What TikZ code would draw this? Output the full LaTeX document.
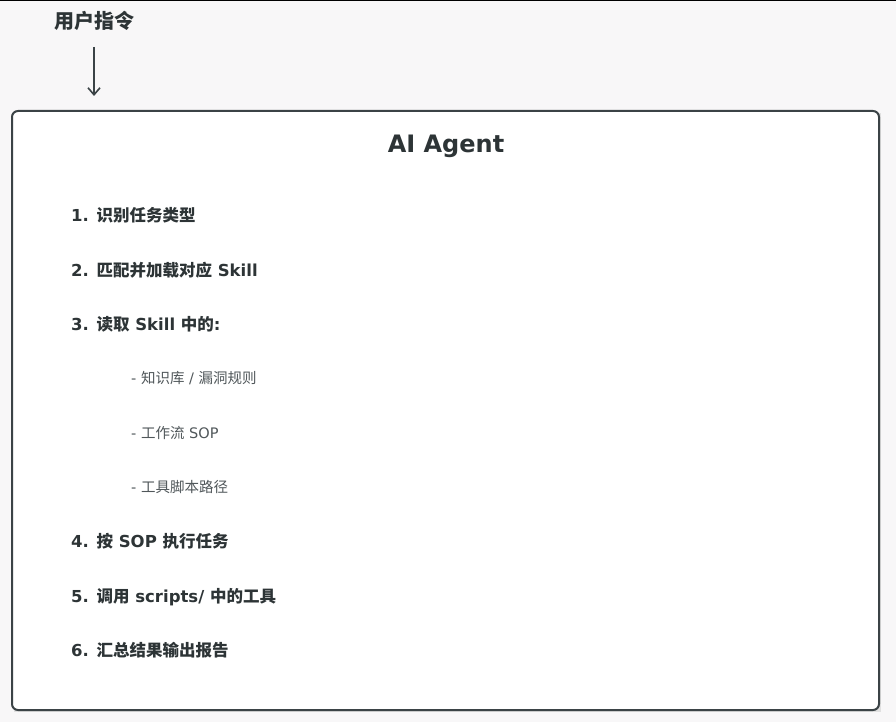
\documentclass[tikz,border=0pt]{standalone}
\usepackage{fontspec}
\setmainfont{DejaVu Sans}
\newfontfamily\cjk{Noto Sans CJK SC}
\usetikzlibrary{arrows.meta}
\definecolor{bgc}{HTML}{F8F7F8}
\definecolor{ink}{HTML}{2D3436}
\definecolor{frame}{HTML}{3B4346}
\definecolor{subc}{HTML}{50575A}
\tikzset{
  item/.style={anchor=west, inner sep=0pt, text=ink, font=\fontsize{16.5}{19}\selectfont\bfseries, text height=12pt, text depth=3pt},
  subitem/.style={anchor=west, inner sep=0pt, text=subc, font=\fontsize{14.5}{16}\selectfont, text height=10pt, text depth=3pt},
  mainbox/.style={draw=frame, line width=2pt, fill=white, rounded corners=6pt},
  flow/.style={draw=frame, line width=1.6pt, -{Straight Barb[length=7pt,width=12pt,line width=1.6pt]}}
}
\begin{document}
\begin{tikzpicture}[x=1pt,y=-1pt]
\useasboundingbox (0,0) rectangle (896,722);
\fill[bgc] (0,0) rectangle (896,722);
\draw[black, line width=1.5pt] (0,0.75) -- (896,0.75);
\node[text=ink, font=\fontsize{20}{22}\selectfont\bfseries\cjk, inner sep=0pt] (user) at (94,21) {用户指令};
\coordinate (astart) at (94,47);
\coordinate (aend) at (94,96);
\draw[flow] (astart) -- (aend);
\fill[black!12] (14,113) rectangle (881,712);
\draw[mainbox] (12,111) rectangle (879,710);
\node[text=ink, font=\fontsize{24}{28}\selectfont\bfseries, inner sep=0pt] (title) at (446,146) {AI Agent};
\node[item] (i1) at (71,217) {1. {\cjk 识别任务类型}};
\node[item] (i2) at (71,272) {2. {\cjk 匹配并加载对应} Skill};
\node[item] (i3) at (71,326) {3. {\cjk 读取} Skill {\cjk 中的}:};
\node[subitem] (s1) at (131,380) {- {\cjk 知识库} / {\cjk 漏洞规则}};
\node[subitem] (s2) at (131,435) {- {\cjk 工作流} SOP};
\node[subitem] (s3) at (131,489) {- {\cjk 工具脚本路径}};
\node[item] (i4) at (71,543) {4. {\cjk 按} SOP {\cjk 执行任务}};
\node[item] (i5) at (71,598) {5. {\cjk 调用} scripts/ {\cjk 中的工具}};
\node[item] (i6) at (71,652) {6. {\cjk 汇总结果输出报告}};
\end{tikzpicture}
\end{document}
